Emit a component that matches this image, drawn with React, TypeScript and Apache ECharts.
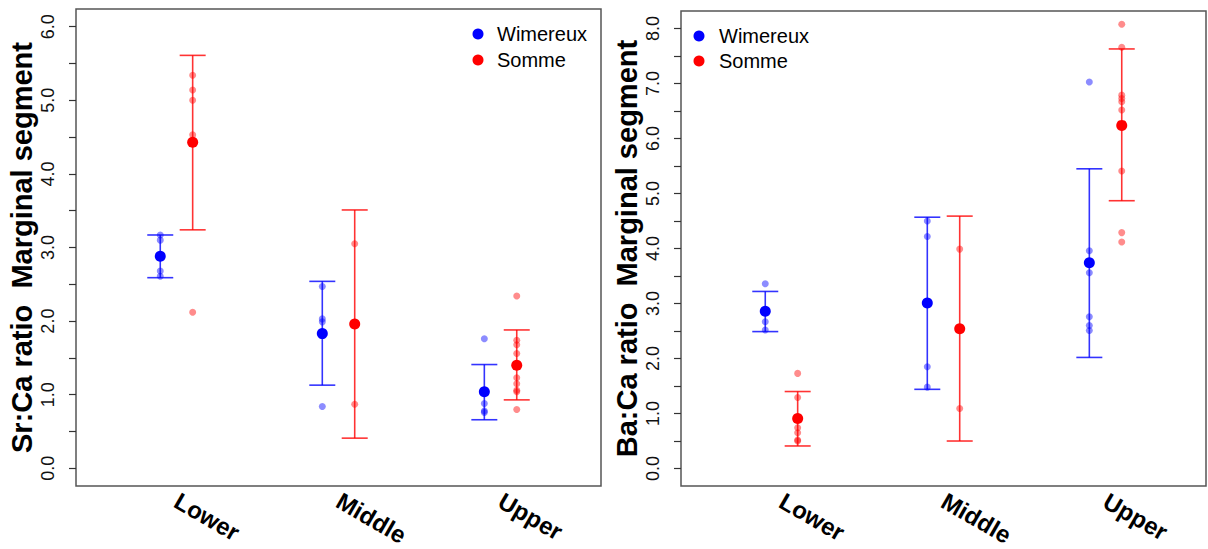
import React, { useEffect, useRef } from "react";
import * as echarts from "echarts";

// ---------- data ----------
const categories = ["Lower", "Middle", "Upper"];
const groups = ["Wimereux", "Somme"];

// Sr:Ca ratio (left panel)
const srWimMean = [2.88, 1.83, 1.04];
const srWimLow = [2.59, 1.13, 0.66];
const srWimHigh = [3.17, 2.54, 1.41];
const srWimPoints = [
  [3.17, 3.1, 2.68, 2.61],
  [2.47, 2.03, 1.99, 0.84],
  [1.76, 0.88, 0.78, 0.76],
];
const srSomMean = [4.43, 1.96, 1.4];
const srSomLow = [3.24, 0.41, 0.93];
const srSomHigh = [5.61, 3.51, 1.88];
const srSomPoints = [
  [5.34, 5.14, 5.0, 4.53, 2.12],
  [3.05, 0.87],
  [2.34, 1.74, 1.68, 1.56, 1.23, 1.15, 1.06, 1.04, 0.8],
];

// Ba:Ca ratio (right panel)
const baWimMean = [2.86, 3.01, 3.74];
const baWimLow = [2.49, 1.44, 2.02];
const baWimHigh = [3.22, 4.57, 5.45];
const baWimPoints = [
  [3.36, 2.67, 2.52],
  [4.5, 4.22, 1.85, 1.48],
  [7.03, 3.96, 3.56, 2.76, 2.6, 2.51],
];
const baSomMean = [0.91, 2.54, 6.24];
const baSomLow = [0.41, 0.5, 4.87];
const baSomHigh = [1.4, 4.59, 7.63];
const baSomPoints = [
  [1.73, 1.29, 0.74, 0.65, 0.52, 0.5],
  [3.99, 1.09],
  [8.08, 7.66, 6.79, 6.73, 6.67, 6.52, 5.41, 4.29, 4.12],
];

// axis ticks
const categoryPositions = [1, 2, 3];
const srTickLabels = [0, 1, 2, 3, 4, 5, 6];
const srTickMarks = [0, 0.5, 1, 1.5, 2, 2.5, 3, 3.5, 4, 4.5, 5, 5.5, 6];
const baTickLabels = [0, 1, 2, 3, 4, 5, 6, 7, 8];
const baTickMarks = [0, 0.5, 1, 1.5, 2, 2.5, 3, 3.5, 4, 4.5, 5, 5.5, 6, 6.5, 7, 7.5, 8];

const BLUE = "#0000ff";
const RED = "#ff0000";
const FONT = "'Liberation Sans', Arial, sans-serif";
const OFFSET = 0.1;

function errorBarSeries(name: string, idx: number, color: string, dx: number, low: number[], high: number[]) {
  return {
    type: "custom",
    name,
    xAxisIndex: idx,
    yAxisIndex: idx,
    z: 3,
    encode: { x: 0, y: [1, 2] },
    data: low.map((l, i) => [categoryPositions[i] + dx, l, high[i]]),
    renderItem: (params: any, api: any) => {
      const x = api.value(0);
      const pLo = api.coord([x, api.value(1)]);
      const pHi = api.coord([x, api.value(2)]);
      const hw = 13;
      const style = { stroke: color, lineWidth: 1.6, opacity: 0.8 };
      return {
        type: "group",
        children: [
          { type: "line", shape: { x1: pLo[0], y1: pLo[1], x2: pHi[0], y2: pHi[1] }, style },
          { type: "line", shape: { x1: pLo[0] - hw, y1: pLo[1], x2: pLo[0] + hw, y2: pLo[1] }, style },
          { type: "line", shape: { x1: pHi[0] - hw, y1: pHi[1], x2: pHi[0] + hw, y2: pHi[1] }, style },
        ],
      };
    },
  };
}

function pointSeries(name: string, idx: number, color: string, dx: number, pts: number[][]) {
  const data: number[][] = [];
  pts.forEach((arr, i) => arr.forEach((v) => data.push([categoryPositions[i] + dx, v])));
  return {
    type: "scatter",
    name,
    xAxisIndex: idx,
    yAxisIndex: idx,
    z: 2,
    symbol: "circle",
    symbolSize: 7,
    itemStyle: { color, opacity: 0.45 },
    data,
  };
}

function meanSeries(name: string, idx: number, color: string, dx: number, mean: number[]) {
  return {
    type: "scatter",
    name,
    xAxisIndex: idx,
    yAxisIndex: idx,
    z: 4,
    symbol: "circle",
    symbolSize: 11,
    itemStyle: { color, opacity: 1 },
    data: mean.map((m, i) => [categoryPositions[i] + dx, m]),
  };
}

function xAxis(idx: number) {
  return {
    type: "value",
    gridIndex: idx,
    min: 0.38,
    max: 3.62,
    axisLine: { show: false },
    axisTick: { show: false },
    splitLine: { show: false },
    axisLabel: {
      customValues: categoryPositions,
      formatter: (v: number) => categories[Math.round(v) - 1] || "",
      rotate: -30,
      margin: 13,
      fontSize: 24,
      fontWeight: "bold",
      fontFamily: FONT,
      color: "#000",
    },
  };
}

function yAxis(idx: number, min: number, max: number, labels: number[], marks: number[], name: string) {
  return {
    type: "value",
    gridIndex: idx,
    min,
    max,
    name,
    nameLocation: "middle",
    nameRotate: 90,
    nameGap: 40,
    nameTextStyle: { fontSize: 29, fontWeight: "bold", fontFamily: FONT, color: "#000" },
    axisLine: { show: false },
    splitLine: { show: false },
    axisTick: {
      show: true,
      customValues: marks,
      length: 7,
      inside: false,
      lineStyle: { color: "#333", width: 1.2 },
    },
    axisLabel: {
      customValues: labels,
      formatter: (v: number) => v.toFixed(1),
      rotate: 90,
      margin: 19,
      fontSize: 18,
      fontFamily: FONT,
      color: "#111",
    },
  };
}

function legendGraphic(cx: number, textX: number, y1: number, y2: number) {
  return [
    { type: "circle", shape: { cx, cy: y1, r: 5.5 }, style: { fill: BLUE } },
    { type: "circle", shape: { cx, cy: y2, r: 5.5 }, style: { fill: RED } },
    {
      type: "text",
      x: textX,
      y: y1,
      style: { text: groups[0], fontSize: 20, fontFamily: FONT, fill: "#000", verticalAlign: "middle" },
    },
    {
      type: "text",
      x: textX,
      y: y2,
      style: { text: groups[1], fontSize: 20, fontFamily: FONT, fill: "#000", verticalAlign: "middle" },
    },
  ];
}

export default function App() {
  const ref = useRef<HTMLDivElement>(null);
  useEffect(() => {
    if (!ref.current) return;
    const chart = echarts.init(ref.current, null, { renderer: "svg" });
    chart.setOption({
      animation: false,
      backgroundColor: "#fff",
      textStyle: { fontFamily: FONT },
      grid: [
        { left: 76, top: 9, width: 525, height: 477, show: true, borderColor: "#555", borderWidth: 1.5, backgroundColor: "transparent" },
        { left: 681, top: 11, width: 525, height: 477, show: true, borderColor: "#555", borderWidth: 1.5, backgroundColor: "transparent" },
      ],
      xAxis: [xAxis(0), xAxis(1)],
      yAxis: [
        yAxis(0, -0.24, 6.24, srTickLabels, srTickMarks, "Sr:Ca ratio  Marginal segment"),
        yAxis(1, -0.32, 8.32, baTickLabels, baTickMarks, "Ba:Ca ratio  Marginal segment"),
      ],
      graphic: [
        ...legendGraphic(478, 497, 34, 60),
        ...legendGraphic(699, 719, 36, 61),
      ],
      series: [
        pointSeries("Wimereux", 0, BLUE, -OFFSET, srWimPoints),
        pointSeries("Somme", 0, RED, OFFSET, srSomPoints),
        errorBarSeries("Wimereux", 0, BLUE, -OFFSET, srWimLow, srWimHigh),
        errorBarSeries("Somme", 0, RED, OFFSET, srSomLow, srSomHigh),
        meanSeries("Wimereux", 0, BLUE, -OFFSET, srWimMean),
        meanSeries("Somme", 0, RED, OFFSET, srSomMean),
        pointSeries("Wimereux", 1, BLUE, -OFFSET, baWimPoints),
        pointSeries("Somme", 1, RED, OFFSET, baSomPoints),
        errorBarSeries("Wimereux", 1, BLUE, -OFFSET, baWimLow, baWimHigh),
        errorBarSeries("Somme", 1, RED, OFFSET, baSomLow, baSomHigh),
        meanSeries("Wimereux", 1, BLUE, -OFFSET, baWimMean),
        meanSeries("Somme", 1, RED, OFFSET, baSomMean),
      ],
    });
    return () => chart.dispose();
  }, []);
  return <div ref={ref} style={{ position: "absolute", left: 0, top: 0, width: 1208, height: 549 }} />;
}
